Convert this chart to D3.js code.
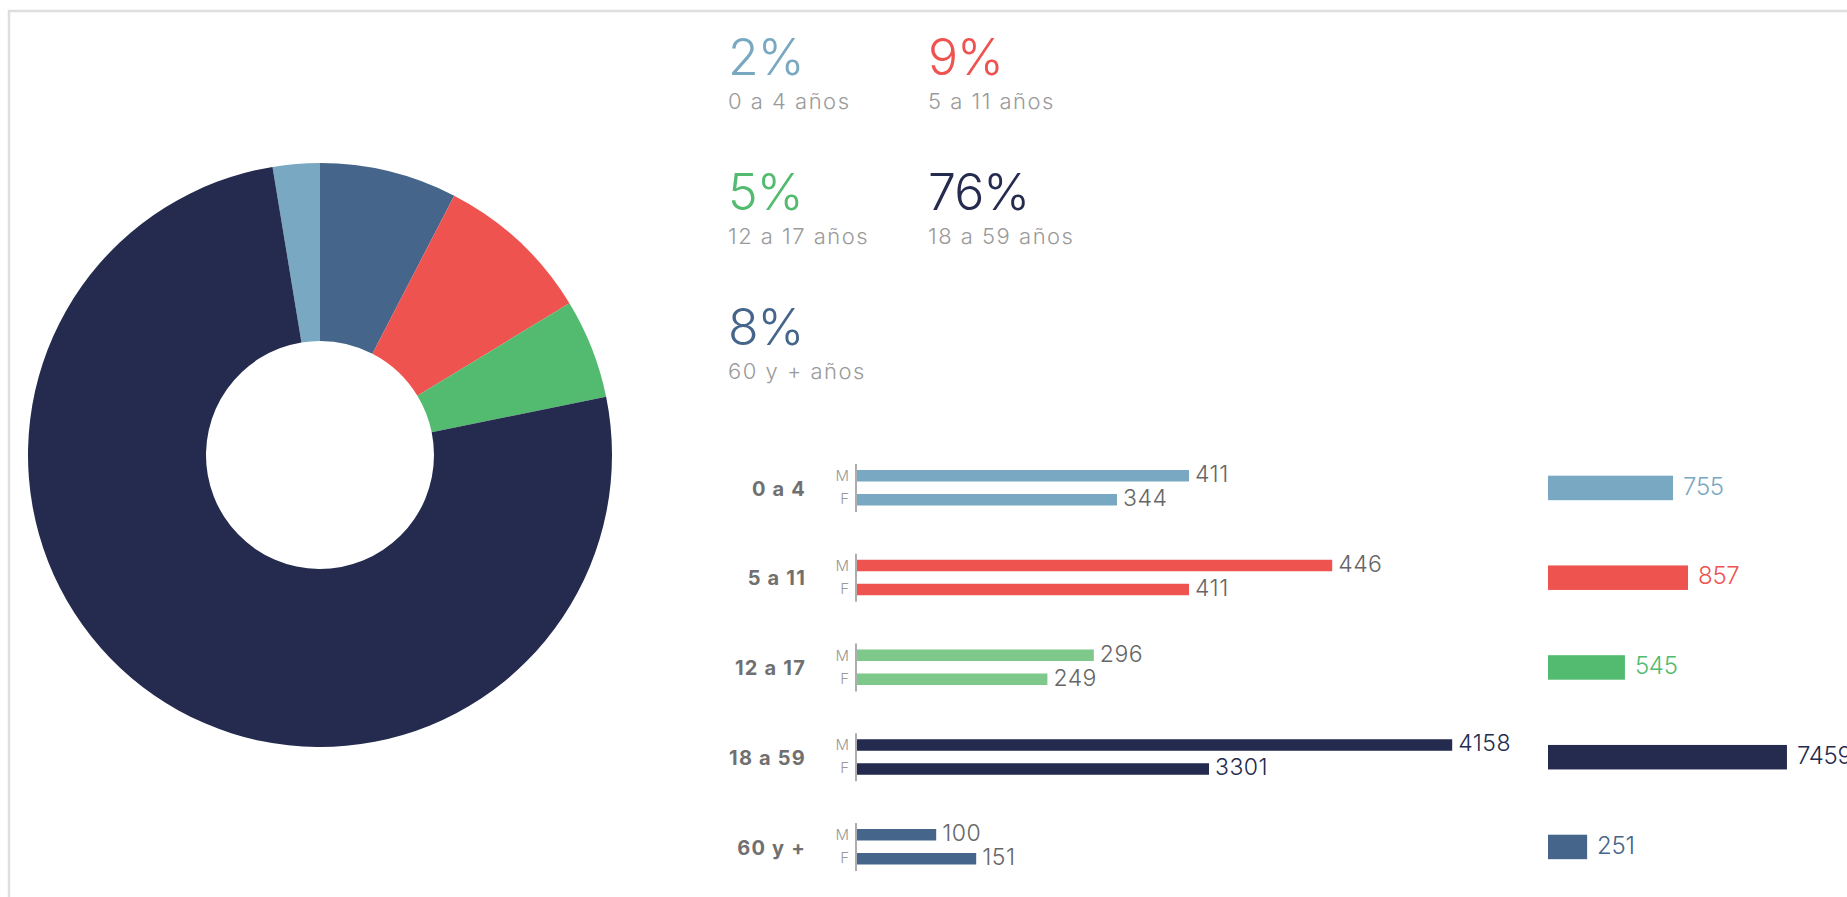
<!DOCTYPE html>
<html>
<head>
<meta charset="utf-8">
<script src="https://cdn.jsdelivr.net/npm/d3@7"></script>
<style>
  body { margin: 0; background: #fff; overflow: hidden; }
  svg { display: block; font-family: 'Inter', 'Open Sans', sans-serif; }
</style>
</head>
<body>
<svg id="svg" width="1847" height="897"></svg>
<script>
// age groups and counts
const groups = ['0 a 4', '5 a 11', '12 a 17', '18 a 59', '60 y +'];
const maleCount = [411, 446, 296, 4158, 100];
const femaleCount = [344, 411, 249, 3301, 151];
const totalCount = [755, 857, 545, 7459, 251];

// bar lengths as they are drawn in the source (not proportional to the labels)
const maleBar = [415, 594, 296, 744, 99];
const femaleBar = [325, 415, 238, 440, 149];
const totalBar = [767, 859, 472, 1466, 240];

// legend percentages
const pctValues = [2, 9, 5, 76, 8];
const pctLabels = ['0 a 4 años', '5 a 11 años', '12 a 17 años', '18 a 59 años', '60 y + años'];

// donut slices (share in %), clockwise from the top
const donutKeys = ['0 a 4', '60 y +', '5 a 11', '12 a 17', '18 a 59'];
const donutShare = [2.6, 7.6, 8.7, 5.5, 75.6];

const colour = d3.scaleOrdinal()
  .domain(groups)
  .range(['#79a9c2', '#ef5350', '#52bb6f', '#242b4e', '#46658b']);
const barColour = d3.scaleOrdinal()
  .domain(groups)
  .range(['#79a9c2', '#ef5350', '#7fc88b', '#242b4e', '#46658b']);

const svg = d3.select('#svg');

// card border (runs off the page on the right and bottom)
svg.append('rect')
  .attr('x', 9)
  .attr('y', 11)
  .attr('width', 2000)
  .attr('height', 1000)
  .style('fill', 'none')
  .style('stroke', '#dedede')
  .style('stroke-width', 2.5);

// ---- donut
const pie = d3.pie()
  .sort(null)
  .value(d => d.v)
  .startAngle(-donutShare[0] / 100 * 2 * Math.PI)
  .endAngle(2 * Math.PI - donutShare[0] / 100 * 2 * Math.PI);

const arc = d3.arc()
  .innerRadius(114)
  .outerRadius(292);

const donut = svg.append('g')
  .attr('transform', 'translate(320,455)');

donut.selectAll('path')
  .data(pie(donutKeys.map((k, i) => ({k: k, v: donutShare[i]}))))
  .join('path')
  .attr('d', arc)
  .attr('fill', d => colour(d.data.k));

// ---- legend with percentages
const colX = d3.scaleOrdinal().domain([0, 1]).range([728, 928]);
const rowY = d3.scaleLinear().domain([0, 2]).range([75, 345]);

const legend = svg.append('g').selectAll('g')
  .data(groups)
  .join('g')
  .attr('transform', (d, i) => `translate(${colX(i % 2)},${rowY(Math.floor(i / 2))})`);

legend.append('text')
  .text((d, i) => pctValues[i] + '%')
  .attr('fill', d => colour(d))
  .style('font-size', '50px')
  .style('font-weight', 300)
  .style('letter-spacing', '-1px');

legend.append('text')
  .text((d, i) => pctLabels[i])
  .attr('y', 34)
  .attr('fill', '#9a9a9a')
  .style('font-size', '22px')
  .style('font-weight', 300)
  .style('letter-spacing', '1.5px');

// ---- grouped bars M / F
const yGroup = d3.scalePoint().domain(groups).range([488, 847]);
const xBar = d3.scaleLinear().domain([0, 1000]).range([0, 800]);
const xTotal = d3.scaleLinear().domain([0, 1000]).range([0, 163]);
const axisX = 856;
const totalX = 1548;

const rows = svg.append('g').selectAll('g')
  .data(groups)
  .join('g')
  .attr('transform', d => `translate(0,${yGroup(d)})`);

rows.append('text')
  .text(d => d)
  .attr('x', 806)
  .attr('y', 7.5)
  .attr('text-anchor', 'end')
  .attr('fill', '#707070')
  .style('font-size', '20px')
  .style('font-weight', 700)
  .style('letter-spacing', '1.2px');

rows.append('line')
  .attr('x1', axisX).attr('x2', axisX)
  .attr('y1', -24).attr('y2', 24)
  .style('stroke', '#777')
  .style('stroke-width', 1.2);

rows.append('text')
  .text('M')
  .attr('x', 849)
  .attr('y', -7)
  .attr('text-anchor', 'end')
  .attr('fill', '#9a9a9a')
  .style('font-size', '15px')
  .style('font-weight', 300);

rows.append('text')
  .text('F')
  .attr('x', 849)
  .attr('y', 16)
  .attr('text-anchor', 'end')
  .attr('fill', '#9a9a9a')
  .style('font-size', '15px')
  .style('font-weight', 300);

const sexes = [
  {bar: maleBar, count: maleCount, dy: -18},
  {bar: femaleBar, count: femaleCount, dy: 6}
];

sexes.forEach(s => {
  rows.append('rect')
    .attr('x', axisX + 1)
    .attr('y', s.dy)
    .attr('width', (d, i) => xBar(s.bar[i]))
    .attr('height', 11.5)
    .attr('fill', d => barColour(d));

  rows.append('text')
    .text((d, i) => s.count[i])
    .attr('x', (d, i) => axisX + 1 + xBar(s.bar[i]) + 6)
    .attr('y', s.dy + 12)
    .attr('fill', d => d == '18 a 59' ? '#242b4e' : '#666')
    .style('font-size', '23px')
    .style('font-weight', 300)
    .style('letter-spacing', '0.5px');
});

// ---- totals
rows.append('rect')
  .attr('x', totalX)
  .attr('y', -12.3)
  .attr('width', (d, i) => xTotal(totalBar[i]))
  .attr('height', 24.5)
  .attr('fill', d => colour(d));

rows.append('text')
  .text((d, i) => totalCount[i])
  .attr('x', (d, i) => totalX + xTotal(totalBar[i]) + 10)
  .attr('y', 6.5)
  .attr('fill', d => colour(d))
  .style('font-size', '24px')
  .style('font-weight', 300)
  .style('letter-spacing', '-0.3px');
</script>
</body>
</html>
